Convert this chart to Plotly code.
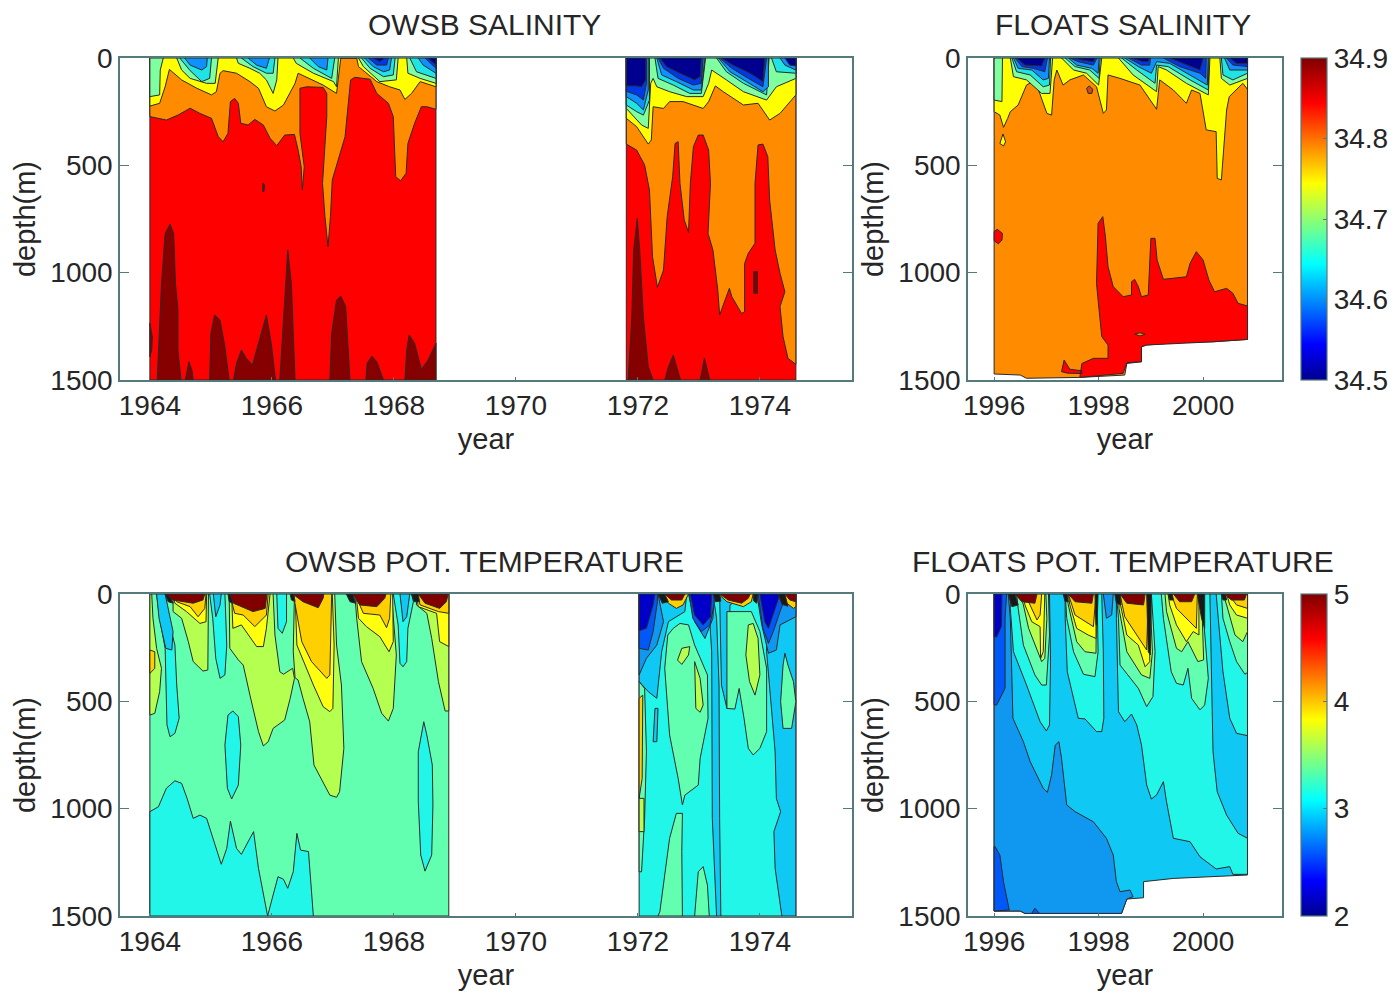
import plotly.graph_objects as go

# ---------- axis labels and ticks ----------
owsb_year_ticks = [1964, 1966, 1968, 1970, 1972, 1974]
float_year_ticks = [1996, 1998, 2000]
depth_ticks = [0, 500, 1000, 1500]
sal_ticks = [34.5, 34.6, 34.7, 34.8, 34.9]
sal_tick_text = ["34.5", "34.6", "34.7", "34.8", "34.9"]
temp_ticks = [2, 3, 4, 5]
titles = ["OWSB SALINITY", "FLOATS SALINITY", "OWSB POT. TEMPERATURE", "FLOATS POT. TEMPERATURE"]

# ---------- band colours ----------
NAVY = "#00008f"; BLUE = "#0038e8"; AZURE = "#1090ff"; CYAN = "#20e4e4"; GREEN = "#80ffa0"
YELLOW = "#ffff00"; ORANGE = "#ff8c00"; RED = "#ff0000"; DARK = "#860000"
T_NAVY = "#0000c8"; T_BLUE = "#0058f8"; T_AZ = "#1098f0"; T_SKY = "#10c8f4"; T_TURQ = "#22f6e8"
T_MINT = "#62ffb0"; T_LIME = "#b4ff50"; T_YEL = "#ffff10"; T_GOLD = "#ffd000"; T_DARK = "#800000"; T_BLACK = "#181818"
JET = [[0, "#00008f"], [0.11, "#0000ff"], [0.36, "#00ffff"], [0.61, "#ffff00"], [0.86, "#ff0000"], [1, "#800000"]]

# ---------- OWSB salinity: band outlines as (year, depth in m) ----------
os_red_a = [(1964.0, 0), (1968.69, 0), (1968.69, 1500), (1964.0, 1500)]
os_red_b = [(1971.81, 0), (1974.59, 0), (1974.59, 1500), (1971.81, 1500)]

os_dark = [
    [(1964.0, 1236), (1964.04, 1299), (1964.03, 1360), (1964.0, 1392)],
    [(1964.12, 1500), (1964.16, 1205), (1964.19, 1050), (1964.25, 817), (1964.33, 774), (1964.39, 817), (1964.42, 1050), (1964.46, 1174), (1964.46, 1360), (1964.51, 1500)],
    [(1964.58, 1500), (1964.64, 1415), (1964.69, 1454), (1964.71, 1500)],
    [(1964.98, 1500), (1965.0, 1283), (1965.06, 1197), (1965.15, 1221), (1965.23, 1345), (1965.30, 1500)],
    [(1965.37, 1500), (1965.42, 1423), (1965.50, 1360), (1965.58, 1399), (1965.68, 1430), (1965.78, 1329), (1965.91, 1197), (1965.99, 1329), (1966.06, 1500)],
    [(1966.13, 1500), (1966.16, 1360), (1966.20, 1127), (1966.26, 894), (1966.32, 1050), (1966.35, 1283), (1966.38, 1500)],
    [(1966.95, 1500), (1966.98, 1283), (1967.06, 1127), (1967.13, 1109), (1967.21, 1158), (1967.25, 1329), (1967.28, 1500)],
    [(1967.54, 1500), (1967.56, 1423), (1967.64, 1388), (1967.72, 1415), (1967.83, 1500)],
    [(1968.18, 1500), (1968.21, 1360), (1968.25, 1290), (1968.34, 1329), (1968.45, 1450), (1968.56, 1407), (1968.69, 1329), (1968.69, 1500)],
    [(1965.85, 584), (1965.88, 591), (1965.87, 622), (1965.85, 622)],
    [(1971.84, 1500), (1971.90, 1205), (1971.93, 894), (1971.99, 747), (1972.03, 894), (1972.09, 1205), (1972.17, 1438), (1972.25, 1500)],
    [(1972.44, 1500), (1972.50, 1438), (1972.58, 1384), (1972.64, 1438), (1972.70, 1500)],
    [(1973.02, 1500), (1973.06, 1438), (1973.09, 1399), (1973.14, 1454), (1973.18, 1500)],
    [(1973.90, 995), (1973.96, 995), (1973.96, 1096), (1973.90, 1096)],
]
os_orange = [
    [(1964.0, 0), (1964.0, 273), (1964.27, 289), (1964.46, 266), (1964.66, 234), (1964.82, 258), (1965.01, 281), (1965.12, 366), (1965.20, 390), (1965.28, 351), (1965.32, 203), (1965.39, 188), (1965.45, 211), (1965.49, 304), (1965.61, 312), (1965.72, 286), (1965.86, 312), (1965.97, 374), (1966.08, 408), (1966.21, 359), (1966.37, 356), (1966.43, 429), (1966.48, 506), (1966.50, 615), (1966.53, 506), (1966.46, 351), (1966.46, 141), (1966.57, 134), (1966.84, 137), (1966.90, 165), (1966.90, 273), (1966.87, 429), (1966.83, 584), (1966.87, 739), (1966.92, 879), (1966.96, 739), (1966.99, 568), (1967.20, 366), (1967.29, 102), (1967.36, 90), (1967.61, 99), (1967.72, 165), (1967.91, 211), (1967.99, 273), (1968.03, 553), (1968.11, 572), (1968.20, 537), (1968.23, 398), (1968.34, 304), (1968.45, 227), (1968.54, 227), (1968.69, 239), (1968.69, 0)],
    [(1971.81, 0), (1971.81, 401), (1971.98, 429), (1972.11, 498), (1972.19, 615), (1972.24, 926), (1972.32, 1068), (1972.42, 988), (1972.48, 739), (1972.57, 553), (1972.61, 398), (1972.66, 390), (1972.69, 584), (1972.76, 755), (1972.83, 812), (1972.86, 584), (1972.91, 413), (1972.99, 359), (1973.07, 359), (1973.16, 429), (1973.19, 584), (1973.15, 817), (1973.23, 894), (1973.31, 1081), (1973.34, 1197), (1973.44, 1120), (1973.50, 1073), (1973.54, 1112), (1973.70, 1190), (1973.75, 1182), (1973.75, 957), (1973.81, 910), (1973.92, 863), (1973.92, 584), (1973.97, 405), (1974.05, 401), (1974.13, 460), (1974.16, 662), (1974.25, 894), (1974.33, 1003), (1974.41, 1089), (1974.33, 1158), (1974.38, 1298), (1974.46, 1399), (1974.59, 1427), (1974.59, 0)],
]
os_yellow = [
    [(1964.0, 0), (1964.0, 224), (1964.16, 211), (1964.25, 134), (1964.32, 53), (1964.52, 102), (1964.77, 141), (1965.01, 172), (1965.09, 157), (1965.15, 71), (1965.20, 59), (1965.42, 71), (1965.64, 110), (1965.78, 141), (1965.91, 227), (1966.05, 247), (1966.19, 219), (1966.38, 118), (1966.43, 71), (1966.62, 95), (1966.84, 126), (1967.06, 165), (1967.10, 71), (1967.13, 0), (1967.39, 0), (1967.42, 40), (1967.72, 110), (1967.93, 134), (1968.10, 149), (1968.18, 193), (1968.29, 165), (1968.43, 110), (1968.69, 134), (1968.69, 0)],
    [(1971.81, 0), (1971.81, 281), (1971.98, 320), (1972.17, 401), (1972.22, 382), (1972.25, 227), (1972.42, 235), (1972.52, 203), (1972.74, 203), (1973.07, 235), (1973.16, 203), (1973.27, 130), (1973.40, 157), (1973.73, 219), (1973.97, 211), (1974.16, 289), (1974.33, 258), (1974.59, 172), (1974.59, 0)],
]
os_green = [
    [(1964.0, 0), (1964.0, 180), (1964.16, 172), (1964.17, 56), (1964.22, 0)],
    [(1964.44, 0), (1964.52, 56), (1964.66, 95), (1964.93, 118), (1965.07, 118), (1965.12, 0)],
    [(1965.42, 0), (1965.45, 25), (1965.64, 48), (1965.80, 71), (1965.91, 102), (1966.02, 165), (1966.08, 102), (1966.10, 0)],
    [(1966.35, 0), (1966.40, 25), (1966.68, 71), (1967.01, 110), (1967.06, 134), (1967.09, 0)],
    [(1967.42, 0), (1967.50, 40), (1967.77, 110), (1968.04, 102), (1968.07, 0)],
    [(1968.21, 0), (1968.23, 71), (1968.43, 95), (1968.69, 118), (1968.69, 0)],
    [(1971.81, 0), (1971.81, 235), (1972.06, 312), (1972.17, 328), (1972.21, 118), (1972.25, 95), (1972.31, 134), (1972.52, 157), (1972.80, 180), (1973.07, 180), (1973.16, 118), (1973.21, 56), (1973.45, 102), (1973.73, 157), (1974.11, 196), (1974.27, 134), (1974.59, 95), (1974.59, 0)],
]
os_cyan = [
    [(1964.49, 0), (1964.66, 59), (1964.85, 110), (1964.98, 95), (1965.01, 0)],
    [(1965.50, 0), (1965.69, 40), (1965.91, 71), (1966.02, 71), (1966.05, 0)],
    [(1966.46, 0), (1966.68, 48), (1966.98, 95), (1967.03, 0)],
    [(1967.47, 0), (1967.61, 48), (1967.83, 87), (1967.99, 79), (1968.02, 0)],
    [(1968.26, 0), (1968.37, 64), (1968.69, 95), (1968.69, 0)],
    [(1971.81, 0), (1971.81, 219), (1971.98, 250), (1972.09, 266), (1972.19, 196), (1972.19, 0)],
    [(1972.28, 0), (1972.33, 95), (1972.58, 126), (1972.85, 165), (1973.04, 165), (1973.11, 0)],
    [(1973.29, 0), (1973.45, 64), (1973.73, 118), (1974.11, 172), (1974.15, 0)],
    [(1974.19, 0), (1974.27, 64), (1974.59, 71), (1974.59, 0)],
]
os_azure = [
    [(1964.57, 0), (1964.66, 33), (1964.85, 56), (1964.93, 40), (1964.94, 0)],
    [(1965.61, 0), (1965.75, 33), (1965.91, 48), (1965.96, 0)],
    [(1966.62, 0), (1966.76, 40), (1966.90, 56), (1966.92, 0)],
    [(1967.52, 0), (1967.66, 40), (1967.83, 64), (1967.93, 56), (1967.96, 0)],
    [(1968.40, 0), (1968.48, 33), (1968.69, 71), (1968.69, 0)],
    [(1971.81, 0), (1971.81, 180), (1971.98, 211), (1972.09, 242), (1972.17, 149), (1972.17, 0)],
    [(1972.31, 0), (1972.39, 79), (1972.63, 110), (1972.91, 149), (1973.04, 149), (1973.10, 0)],
    [(1973.32, 0), (1973.51, 64), (1973.78, 110), (1974.05, 157), (1974.14, 134), (1974.14, 0)],
    [(1974.33, 0), (1974.41, 33), (1974.59, 56), (1974.59, 0)],
]
os_blue = [
    [(1967.58, 0), (1967.72, 33), (1967.88, 33), (1967.91, 0)],
    [(1968.51, 0), (1968.69, 48), (1968.69, 0)],
    [(1971.81, 0), (1971.81, 155), (1971.98, 172), (1972.09, 196), (1972.14, 118), (1972.14, 0)],
    [(1972.33, 0), (1972.42, 48), (1972.66, 95), (1972.91, 126), (1973.04, 118), (1973.07, 0)],
    [(1973.34, 0), (1973.54, 48), (1973.81, 95), (1974.05, 134), (1974.11, 0)],
]
os_navy = [
    [(1967.66, 0), (1967.77, 17), (1967.85, 0)],
    [(1968.56, 0), (1968.69, 33), (1968.69, 0)],
    [(1971.81, 0), (1971.81, 130), (1971.98, 130), (1972.06, 134), (1972.13, 102), (1972.13, 0)],
    [(1972.36, 0), (1972.47, 40), (1972.69, 71), (1972.93, 102), (1973.02, 87), (1973.04, 0)],
    [(1973.37, 0), (1973.56, 33), (1973.84, 71), (1974.05, 110), (1974.08, 0)],
    [(1974.41, 0), (1974.49, 33), (1974.59, 37), (1974.59, 0)],
]

# ---------- floats salinity ----------
fs_orange = [(1996.0, 0), (2000.85, 0), (2000.85, 1311), (2000.19, 1322), (1999.49, 1326), (1998.92, 1337), (1998.82, 1345), (1998.82, 1415), (1998.54, 1423), (1998.50, 1477), (1997.64, 1488), (1996.62, 1492), (1996.50, 1477), (1996.0, 1472)]
fs_red = [
    [(1997.96, 1050), (1997.99, 770), (1998.08, 739), (1998.13, 832), (1998.18, 972), (1998.28, 1065), (1998.47, 1112), (1998.63, 1104), (1998.63, 1042), (1998.69, 1031), (1998.76, 1065), (1998.82, 1112), (1998.95, 1104), (1998.98, 972), (1999.0, 840), (1999.08, 840), (1999.12, 941), (1999.24, 1031), (1999.68, 1019), (1999.75, 957), (1999.87, 902), (2000.0, 941), (2000.11, 1034), (2000.22, 1089), (2000.45, 1073), (2000.57, 1096), (2000.67, 1143), (2000.85, 1155), (2000.85, 1311), (2000.19, 1322), (1999.49, 1329), (1998.92, 1337), (1998.82, 1345), (1998.82, 1415), (1998.54, 1419), (1998.47, 1469), (1997.64, 1488), (1997.68, 1423), (1997.90, 1399), (1998.18, 1399), (1998.18, 1337), (1998.06, 1298), (1997.99, 1127)],
    [(1997.29, 1461), (1997.34, 1407), (1997.45, 1450), (1997.68, 1457), (1997.68, 1470), (1997.40, 1468)],
    [(1996.0, 809), (1996.06, 798), (1996.16, 817), (1996.15, 848), (1996.08, 866), (1996.0, 851)],
]
fs_orange_spots = [(1998.69, 1286), (1998.79, 1280), (1998.89, 1287), (1998.79, 1295)]
fs_brick_spot = [(1997.77, 141), (1997.82, 130), (1997.89, 146), (1997.87, 165), (1997.80, 165)]
fs_yellow = [
    [(1996.0, 0), (1996.0, 250), (1996.11, 266), (1996.18, 323), (1996.26, 281), (1996.31, 250), (1996.46, 219), (1996.62, 126), (1996.72, 113), (1996.85, 149), (1997.01, 258), (1997.10, 266), (1997.15, 102), (1997.20, 56), (1997.32, 126), (1997.45, 102), (1997.71, 79), (1997.96, 134), (1998.09, 258), (1998.15, 242), (1998.18, 79), (1998.41, 95), (1998.79, 126), (1999.11, 239), (1999.17, 102), (1999.43, 149), (1999.68, 211), (1999.78, 149), (1999.94, 165), (2000.06, 335), (2000.25, 343), (2000.27, 561), (2000.35, 568), (2000.45, 242), (2000.50, 180), (2000.76, 118), (2000.85, 146), (2000.85, 0)],
    [(1996.11, 398), (1996.17, 354), (1996.22, 390), (1996.18, 410)],
]
fs_green = [
    [(1996.0, 0), (1996.0, 196), (1996.15, 203), (1996.16, 0)],
    [(1996.31, 0), (1996.37, 87), (1996.62, 102), (1996.91, 165), (1997.07, 165), (1997.12, 0)],
    [(1997.29, 0), (1997.52, 56), (1997.77, 71), (1998.0, 126), (1998.06, 0)],
    [(1998.38, 0), (1998.66, 79), (1999.11, 157), (1999.14, 40), (1999.30, 56), (1999.68, 118), (2000.10, 172), (2000.13, 0)],
    [(2000.32, 0), (2000.35, 95), (2000.51, 126), (2000.85, 95), (2000.85, 0)],
]
fs_cyan = [
    [(1996.34, 0), (1996.43, 64), (1996.69, 79), (1996.94, 134), (1997.06, 126), (1997.08, 0)],
    [(1997.36, 0), (1997.55, 40), (1997.83, 56), (1998.01, 95), (1998.03, 0)],
    [(1998.44, 0), (1998.73, 56), (1999.08, 118), (1999.11, 33), (1999.33, 40), (1999.75, 102), (2000.10, 149), (2000.11, 0)],
    [(2000.35, 0), (2000.38, 79), (2000.57, 102), (2000.85, 71), (2000.85, 0)],
]
fs_azure = [
    [(1996.37, 0), (1996.46, 48), (1996.72, 56), (1996.94, 102), (1997.04, 95), (1997.06, 0)],
    [(1997.42, 0), (1997.58, 33), (1997.87, 48), (1997.99, 71), (1998.01, 0)],
    [(1998.50, 0), (1998.76, 40), (1999.01, 71), (1999.11, 17), (1999.36, 25), (1999.81, 87), (2000.08, 126), (2000.10, 0)],
    [(2000.41, 0), (2000.51, 56), (2000.85, 56), (2000.85, 0)],
]
fs_blue = [
    [(1996.40, 0), (1996.53, 40), (1996.75, 48), (1996.97, 64), (1997.02, 0)],
    [(1997.45, 0), (1997.61, 17), (1997.90, 33), (1997.97, 0)],
    [(1998.57, 0), (1998.82, 33), (1998.98, 33), (1998.99, 0)],
    [(1999.24, 0), (1999.55, 40), (1999.94, 71), (2000.05, 95), (2000.06, 0)],
    [(2000.45, 0), (2000.57, 33), (2000.85, 40), (2000.85, 0)],
]
fs_navy = [
    [(1996.43, 0), (1996.59, 33), (1996.91, 37), (1996.97, 0)],
    [(1997.52, 0), (1997.68, 9), (1997.90, 17), (1997.93, 0)],
    [(1998.63, 0), (1998.85, 17), (1998.95, 17), (1998.97, 0)],
    [(1999.36, 0), (1999.62, 25), (1999.94, 56), (2000.0, 0)],
    [(2000.51, 0), (2000.64, 25), (2000.85, 25), (2000.85, 0)],
]

# ---------- OWSB temperature ----------
ot_mint = [
    [(1964.0, 0), (1968.90, 0), (1968.90, 1500), (1964.0, 1500)],
]
ot_cyan = [
    [(1972.02, 0), (1974.59, 0), (1974.59, 1500), (1972.02, 1500)],
    [(1964.0, 1014), (1964.14, 991), (1964.27, 905), (1964.41, 870), (1964.52, 882), (1964.61, 952), (1964.71, 1045), (1964.82, 1030), (1964.93, 1045), (1965.07, 1169), (1965.17, 1259), (1965.26, 1185), (1965.32, 1058), (1965.42, 1185), (1965.50, 1213), (1965.64, 1138), (1965.70, 1107), (1965.78, 1278), (1965.89, 1449), (1965.93, 1500), (1966.02, 1402), (1966.10, 1317), (1966.19, 1329), (1966.26, 1371), (1966.35, 1294), (1966.41, 1115), (1966.47, 1193), (1966.60, 1200), (1966.68, 1500), (1964.0, 1500)],
    [(1965.23, 704), (1965.28, 564), (1965.36, 545), (1965.45, 571), (1965.49, 704), (1965.45, 890), (1965.34, 955), (1965.27, 905)],
    [(1968.49, 595), (1968.40, 735), (1968.40, 968), (1968.44, 1216), (1968.51, 1291), (1968.62, 1216), (1968.64, 983), (1968.63, 797), (1968.54, 657)],
    [(1964.11, 0), (1964.16, 113), (1964.25, 253), (1964.27, 424), (1964.28, 610), (1964.33, 665), (1964.41, 649), (1964.48, 579), (1964.44, 424), (1964.41, 238), (1964.30, 113), (1964.25, 0)],
    [(1964.98, 0), (1965.03, 113), (1965.08, 300), (1965.15, 393), (1965.23, 377), (1965.26, 238), (1965.23, 0)],
    [(1966.08, 0), (1966.10, 160), (1966.17, 183), (1966.24, 129), (1966.24, 0)],
    [(1967.99, 0), (1968.07, 144), (1968.10, 323), (1968.15, 339), (1968.21, 315), (1968.23, 160), (1968.32, 36), (1968.29, 0)],
]
ot_sky = [
    [(1964.11, 0), (1964.15, 113), (1964.26, 253), (1964.36, 261), (1964.38, 175), (1964.25, 0)],
    [(1965.04, 0), (1965.08, 106), (1965.15, 51), (1965.17, 0)],
    [(1968.10, 0), (1968.15, 129), (1968.21, 106), (1968.26, 0)],
    [(1973.15, 0), (1973.21, 269), (1973.22, 1045), (1973.29, 1500), (1973.36, 1500), (1973.34, 1045), (1973.33, 424), (1973.29, 113), (1973.23, 0)],
    [(1974.11, 269), (1974.16, 424), (1974.25, 735), (1974.27, 952), (1974.34, 1014), (1974.23, 1107), (1974.25, 1278), (1974.36, 1500), (1974.59, 1500), (1974.59, 0), (1974.11, 0)],
    [(1972.02, 0), (1972.02, 408), (1972.17, 455), (1972.31, 486), (1972.39, 269), (1972.50, 129), (1972.77, 82), (1972.80, 0)],
    [(1973.34, 0), (1973.37, 424), (1973.46, 533), (1973.51, 51), (1973.78, 0)],
    [(1972.28, 533), (1972.33, 533), (1972.31, 688), (1972.25, 688)],
]
ot_azure = [
    [(1972.02, 0), (1972.02, 377), (1972.14, 300), (1972.31, 238), (1972.42, 129), (1972.33, 0)],
    [(1972.83, 0), (1972.93, 129), (1973.10, 207), (1973.23, 113), (1973.25, 0)],
    [(1973.95, 0), (1974.03, 144), (1974.14, 276), (1974.27, 261), (1974.33, 144), (1974.59, 106), (1974.59, 0)],
]
ot_blue = [
    [(1972.02, 0), (1972.02, 253), (1972.17, 261), (1972.25, 175), (1972.32, 36), (1972.32, 0)],
    [(1972.84, 0), (1972.90, 113), (1973.04, 175), (1973.18, 144), (1973.25, 51), (1973.25, 0)],
    [(1973.97, 0), (1974.05, 160), (1974.14, 230), (1974.22, 175), (1974.33, 82), (1974.44, 0)],
]
ot_navy = [
    [(1972.02, 0), (1972.02, 171), (1972.14, 160), (1972.25, 51), (1972.28, 0)],
    [(1972.86, 0), (1972.93, 98), (1973.07, 144), (1973.19, 106), (1973.21, 0)],
    [(1974.0, 0), (1974.08, 129), (1974.14, 160), (1974.27, 51), (1974.33, 0)],
]
ot_mint_b = [
    [(1972.49, 191), (1972.44, 346), (1972.52, 657), (1972.66, 859), (1972.73, 983), (1972.77, 937), (1972.99, 890), (1973.02, 766), (1973.15, 579), (1973.14, 377), (1972.93, 238), (1972.83, 144), (1972.69, 137), (1972.58, 160)],
    [(1972.36, 1480), (1972.52, 1138), (1972.63, 1022), (1972.73, 1022), (1972.72, 1200), (1972.73, 1500), (1972.33, 1500)],
    [(1972.93, 1500), (1972.99, 1294), (1973.07, 1270), (1973.14, 1356), (1973.17, 1500)],
    [(1973.46, 82), (1973.46, 533), (1973.59, 536), (1973.66, 440), (1973.74, 579), (1973.81, 719), (1973.89, 750), (1974.0, 719), (1974.11, 641), (1974.11, 346), (1974.0, 175), (1973.86, 82)],
    [(1974.38, 626), (1974.34, 502), (1974.38, 331), (1974.41, 276), (1974.46, 331), (1974.55, 408), (1974.59, 502), (1974.52, 626)],
    [(1972.02, 408), (1972.11, 440), (1972.14, 735), (1972.11, 1045), (1972.06, 1294), (1972.02, 1294)],
]
ot_lime = [
    [(1964.0, 564), (1964.08, 556), (1964.16, 455), (1964.19, 346), (1964.11, 253), (1964.05, 113), (1964.03, 0), (1964.0, 0)],
    [(1964.38, 82), (1964.52, 113), (1964.63, 222), (1964.71, 315), (1964.87, 359), (1964.95, 354), (1964.96, 0), (1964.38, 0)],
    [(1965.30, 5), (1965.31, 253), (1965.45, 307), (1965.53, 331), (1965.64, 471), (1965.78, 641), (1965.86, 708), (1965.94, 688), (1966.02, 626), (1966.21, 587), (1966.30, 486), (1966.37, 393), (1966.34, 346), (1966.19, 374), (1966.13, 362), (1966.05, 191), (1966.02, 0), (1965.30, 0)],
    [(1966.37, 0), (1966.35, 269), (1966.38, 390), (1966.43, 401), (1966.51, 486), (1966.62, 595), (1966.69, 797), (1966.81, 859), (1966.95, 937), (1967.06, 947), (1967.11, 921), (1967.18, 719), (1967.14, 424), (1967.06, 238), (1967.03, 0)],
    [(1967.39, 113), (1967.47, 315), (1967.66, 440), (1967.80, 556), (1967.91, 592), (1967.99, 533), (1968.04, 284), (1967.99, 113), (1967.96, 0), (1967.36, 0)],
    [(1968.37, 51), (1968.54, 90), (1968.62, 207), (1968.73, 408), (1968.84, 545), (1968.90, 545), (1968.90, 0), (1968.37, 0)],
    [(1972.65, 308), (1972.72, 253), (1972.85, 245), (1972.83, 284), (1972.72, 328)],
    [(1972.93, 315), (1973.02, 393), (1973.07, 517), (1973.02, 551), (1972.95, 533)],
    [(1973.81, 144), (1973.77, 284), (1973.83, 408), (1973.92, 471), (1974.0, 377), (1973.97, 207), (1973.89, 137)],
    [(1972.02, 952), (1972.10, 952), (1972.10, 1107), (1972.02, 1107)],
]
ot_yellow = [
    [(1964.38, 0), (1964.41, 43), (1964.60, 82), (1964.82, 137), (1964.92, 129), (1964.93, 0)],
    [(1965.34, 0), (1965.36, 160), (1965.50, 144), (1965.75, 245), (1965.86, 245), (1965.91, 160), (1965.97, 0)],
    [(1966.38, 0), (1966.41, 238), (1966.68, 424), (1966.84, 525), (1966.95, 548), (1967.0, 533), (1967.02, 238), (1966.99, 0)],
    [(1967.38, 0), (1967.42, 113), (1967.55, 152), (1967.77, 199), (1967.92, 269), (1967.99, 222), (1967.98, 0)],
    [(1968.37, 0), (1968.40, 59), (1968.70, 90), (1968.75, 222), (1968.90, 245), (1968.90, 0)],
]
ot_gold = [
    [(1964.0, 261), (1964.08, 269), (1964.08, 346), (1964.0, 370)],
    [(1964.38, 0), (1964.44, 36), (1964.66, 59), (1964.79, 106), (1964.90, 67), (1964.92, 0)],
    [(1965.31, 0), (1965.39, 90), (1965.53, 98), (1965.72, 152), (1965.91, 98), (1965.94, 0)],
    [(1966.35, 0), (1966.49, 222), (1966.65, 315), (1966.90, 393), (1966.95, 377), (1966.98, 0)],
    [(1967.36, 0), (1967.50, 90), (1967.77, 98), (1967.88, 157), (1967.93, 113), (1967.95, 0)],
    [(1968.38, 0), (1968.43, 51), (1968.73, 82), (1968.90, 90), (1968.90, 0)],
    [(1972.39, 0), (1972.50, 43), (1972.63, 67), (1972.74, 51), (1972.83, 0)],
    [(1973.32, 0), (1973.46, 36), (1973.73, 59), (1973.86, 36), (1973.89, 0)],
    [(1974.36, 0), (1974.41, 36), (1974.55, 67), (1974.59, 59), (1974.59, 0)],
    [(1972.02, 486), (1972.08, 471), (1972.07, 859), (1972.02, 952)],
]
ot_dark = [
    [(1964.27, 0), (1964.38, 28), (1964.71, 43), (1964.87, 28), (1964.90, 0)],
    [(1965.31, 0), (1965.37, 43), (1965.69, 82), (1965.89, 67), (1965.92, 0)],
    [(1966.34, 0), (1966.51, 36), (1966.76, 64), (1966.84, 20), (1966.85, 0)],
    [(1967.33, 0), (1967.44, 51), (1967.72, 59), (1967.85, 20), (1967.87, 0)],
    [(1968.40, 0), (1968.51, 43), (1968.75, 67), (1968.86, 36), (1968.89, 0)],
    [(1972.44, 0), (1972.55, 28), (1972.72, 28), (1972.77, 0)],
    [(1973.34, 0), (1973.48, 28), (1973.70, 43), (1973.81, 20), (1973.84, 0)],
    [(1974.41, 0), (1974.49, 28), (1974.59, 36), (1974.59, 0)],
]
ot_black = [
    [(1964.25, 0), (1964.32, 0), (1964.38, 43), (1964.30, 36)],
    [(1965.28, 0), (1965.34, 0), (1965.36, 43), (1965.30, 36)],
    [(1966.30, 0), (1966.36, 0), (1966.38, 36), (1966.32, 28)],
    [(1967.22, 0), (1967.33, 0), (1967.37, 43), (1967.28, 36)],
    [(1968.29, 0), (1968.40, 0), (1968.42, 36), (1968.33, 36)],
    [(1972.33, 0), (1972.44, 0), (1972.50, 36), (1972.40, 43)],
    [(1973.23, 0), (1973.34, 0), (1973.36, 33), (1973.27, 36)],
    [(1973.89, 0), (1973.97, 0), (1973.95, 43), (1973.90, 33)],
    [(1974.30, 0), (1974.41, 0), (1974.46, 57), (1974.36, 48)],
]

# ---------- floats temperature ----------
ft_sky = [(1996.0, 0), (2000.85, 0), (2000.85, 1309), (2000.19, 1317), (1999.43, 1325), (1998.86, 1340), (1998.86, 1415), (1998.54, 1421), (1998.44, 1488), (1996.59, 1488), (1996.50, 1477), (1996.0, 1477)]
ft_azure = [(1996.0, 0), (1996.27, 0), (1996.31, 113), (1996.36, 579), (1996.56, 688), (1996.69, 781), (1996.94, 905), (1997.02, 924), (1997.10, 843), (1997.17, 704), (1997.24, 688), (1997.29, 766), (1997.39, 983), (1997.55, 1014), (1997.90, 1061), (1998.15, 1138), (1998.28, 1216), (1998.34, 1340), (1998.41, 1387), (1998.60, 1379), (1998.66, 1410), (1998.54, 1421), (1998.44, 1488), (1996.59, 1488), (1996.50, 1477), (1996.0, 1477)]
ft_blue = [
    [(1996.02, 1177), (1996.11, 1216), (1996.18, 1340), (1996.29, 1472), (1996.0, 1477), (1996.0, 1177)],
    [(1996.0, 0), (1996.24, 0), (1996.21, 113), (1996.21, 439), (1996.05, 517), (1996.0, 517)],
    [(1996.72, 1488), (1996.78, 1464), (1996.87, 1488)],
    [(1999.94, 0), (2000.0, 82), (2000.13, 98), (2000.10, 0)],
]
ft_navy = [(1996.0, 0), (1996.15, 0), (1996.14, 150), (1996.05, 200), (1996.0, 200)]
ft_small_azure = [
    [(1998.09, 0), (1998.15, 113), (1998.25, 98), (1998.28, 0)],
    [(1999.04, 0), (1999.11, 67), (1999.24, 51), (1999.25, 0)],
]
ft_turq = [
    [(1996.31, 67), (1996.37, 269), (1996.62, 424), (1996.88, 595), (1997.0, 638), (1997.06, 610), (1997.08, 315), (1997.06, 0), (1996.31, 0)],
    [(1997.36, 113), (1997.40, 362), (1997.61, 579), (1997.74, 582), (1997.96, 641), (1998.06, 641), (1998.10, 579), (1998.09, 269), (1998.06, 0), (1997.36, 0)],
    [(1998.34, 113), (1998.38, 548), (1998.50, 595), (1998.63, 559), (1998.73, 610), (1998.82, 703), (1998.92, 890), (1999.01, 955), (1999.11, 936), (1999.24, 874), (1999.30, 968), (1999.43, 1138), (1999.75, 1154), (1999.94, 1224), (2000.25, 1281), (2000.51, 1270), (2000.57, 1306), (2000.85, 1306), (2000.85, 1138), (2000.67, 1115), (2000.45, 1030), (2000.27, 921), (2000.19, 735), (2000.16, 424), (2000.13, 0), (1998.34, 0)],
    [(2000.29, 113), (2000.38, 362), (2000.51, 579), (2000.64, 649), (2000.85, 660), (2000.85, 0), (2000.25, 0)],
]
ft_mint = [
    [(1996.46, 67), (1996.56, 238), (1996.78, 377), (1996.91, 424), (1997.0, 424), (1997.06, 191), (1997.04, 0), (1996.43, 0)],
    [(1997.39, 113), (1997.52, 269), (1997.71, 374), (1997.93, 385), (1997.99, 269), (1997.97, 0), (1997.36, 0)],
    [(1998.38, 113), (1998.41, 331), (1998.76, 439), (1998.92, 525), (1999.04, 478), (1999.08, 269), (1999.01, 0), (1998.34, 0)],
    [(1999.24, 113), (1999.39, 362), (1999.49, 416), (1999.62, 424), (1999.71, 346), (1999.78, 486), (1999.94, 540), (2000.03, 517), (2000.10, 393), (2000.03, 160), (1999.97, 0), (1999.20, 0)],
    [(2000.38, 113), (2000.51, 222), (2000.64, 315), (2000.80, 374), (2000.85, 365), (2000.85, 0), (2000.35, 0)],
]
ft_lime = [
    [(1996.56, 51), (1996.66, 160), (1996.91, 315), (1996.97, 300), (1997.01, 113), (1996.99, 0), (1996.50, 0)],
    [(1997.42, 51), (1997.58, 222), (1997.74, 269), (1997.95, 276), (1997.96, 0), (1997.39, 0)],
    [(1998.39, 67), (1998.54, 269), (1998.82, 377), (1998.98, 393), (1999.03, 269), (1998.98, 0), (1998.39, 0)],
    [(1999.30, 82), (1999.49, 253), (1999.59, 269), (1999.71, 222), (1999.90, 315), (2000.01, 307), (1999.97, 0), (1999.27, 0)],
    [(2000.45, 51), (2000.61, 191), (2000.76, 222), (2000.85, 175), (2000.85, 0), (2000.38, 0)],
]
ft_yellow = [
    [(1996.59, 51), (1996.72, 129), (1996.88, 152), (1996.89, 300), (1996.94, 269), (1996.97, 0), (1996.56, 0)],
    [(1997.45, 51), (1997.58, 160), (1997.80, 191), (1997.95, 207), (1997.95, 0), (1997.42, 0)],
    [(1998.42, 51), (1998.54, 191), (1998.76, 238), (1998.89, 339), (1998.98, 315), (1998.95, 0), (1998.39, 0)],
    [(1999.36, 51), (1999.49, 144), (1999.68, 222), (1999.81, 175), (1999.92, 191), (1999.92, 0), (1999.33, 0)],
    [(2000.51, 51), (2000.64, 98), (2000.85, 113), (2000.85, 0), (2000.45, 0)],
]
ft_gold = [
    [(1996.59, 0), (1996.69, 51), (1996.82, 121), (1996.88, 98), (1996.91, 0)],
    [(1997.42, 0), (1997.55, 98), (1997.90, 152), (1997.95, 0)],
    [(1998.41, 0), (1998.50, 106), (1998.92, 261), (1998.95, 0)],
    [(1999.39, 0), (1999.49, 67), (1999.87, 160), (1999.89, 0)],
    [(2000.48, 0), (2000.64, 51), (2000.85, 67), (2000.85, 0)],
]
ft_dark = [
    [(1996.40, 0), (1996.53, 36), (1996.78, 43), (1996.82, 0)],
    [(1997.42, 0), (1997.55, 36), (1997.87, 43), (1997.90, 0)],
    [(1998.41, 0), (1998.54, 43), (1998.86, 51), (1998.89, 0)],
    [(1999.43, 0), (1999.55, 36), (1999.78, 36), (1999.84, 0)],
    [(2000.41, 0), (2000.54, 28), (2000.79, 28), (2000.83, 0)],
]
ft_black = [
    [(1996.27, 0), (1996.40, 0), (1996.46, 51), (1996.34, 59)],
    [(1997.32, 0), (1997.40, 0), (1997.42, 36), (1997.36, 36)],
    [(1997.93, 0), (1997.99, 0), (1997.97, 144), (1997.95, 144)],
    [(1998.31, 0), (1998.41, 0), (1998.43, 51), (1998.34, 43)],
    [(1998.92, 0), (1999.01, 0), (1998.99, 284), (1998.95, 269)],
    [(1999.33, 0), (1999.41, 0), (1999.43, 28), (1999.36, 28)],
    [(1999.89, 0), (2000.03, 0), (2000.03, 160), (1999.97, 113)],
    [(2000.35, 0), (2000.43, 0), (2000.45, 28), (2000.38, 28)],
]

# ---------- layout geometry ----------
W, H = 1393, 992
TOPS = [(58, 380), (594, 916)]
LEFT = (120, 852)
RIGHT = (968, 1282)
LINE = "#557a7c"
TEXT = "#262626"
FS = 28

panels = [
    ("x", "y", [
        (RED, [os_red_a, os_red_b]), (DARK, os_dark), (ORANGE, os_orange), (YELLOW, os_yellow),
        (GREEN, os_green), (CYAN, os_cyan), (AZURE, os_azure), (BLUE, os_blue), (NAVY, os_navy)]),
    ("x2", "y2", [
        (ORANGE, [fs_orange]), (RED, fs_red), (ORANGE, [fs_orange_spots]), ("#c84a1a", [fs_brick_spot]),
        (YELLOW, fs_yellow), (GREEN, fs_green), (CYAN, fs_cyan), (AZURE, fs_azure), (BLUE, fs_blue), (NAVY, fs_navy)]),
    ("x3", "y3", [
        (T_MINT, ot_mint), (T_TURQ, ot_cyan), (T_SKY, ot_sky), (T_AZ, ot_azure), (T_BLUE, ot_blue), (T_NAVY, ot_navy),
        (T_MINT, ot_mint_b), (T_LIME, ot_lime), (T_YEL, ot_yellow), (T_GOLD, ot_gold), (T_BLACK, ot_black), (T_DARK, ot_dark)]),
    ("x4", "y4", [
        (T_SKY, [ft_sky]), (T_AZ, [ft_azure]), (T_BLUE, ft_blue), (T_NAVY, [ft_navy]), (T_AZ, ft_small_azure),
        (T_TURQ, ft_turq), (T_MINT, ft_mint), (T_LIME, ft_lime), (T_YEL, ft_yellow), (T_GOLD, ft_gold), (T_BLACK, ft_black), (T_DARK, ft_dark)]),
]

fig = go.Figure()
for xa, ya, layers in panels:
    for color, polys in layers:
        xs, ys = [], []
        for poly in polys:
            xs += [p[0] for p in poly] + [poly[0][0], None]
            ys += [p[1] for p in poly] + [poly[0][1], None]
        fig.add_trace(go.Scatter(
            x=xs, y=ys, xaxis=xa, yaxis=ya, mode="lines", fill="toself", fillcolor=color,
            line=dict(color="#2a2a2a", width=1), hoverinfo="skip", showlegend=False))


def fx(a, b):
    return [a / W, b / W]


def fy(top, bottom):
    return [1 - bottom / H, 1 - top / H]


def colorbar_trace(xa, ya, x0, y0, cmin, cmax, top, tickvals, ticktext):
    return go.Scatter(
        x=[x0, x0], y=[y0, y0], xaxis=xa, yaxis=ya, mode="markers", showlegend=False, hoverinfo="skip",
        marker=dict(
            size=1, opacity=0, color=[cmin, cmax], cmin=cmin, cmax=cmax, colorscale=JET,
            colorbar=dict(
                x=1301 / W, xanchor="left", y=1 - top / H, yanchor="top",
                thickness=26, thicknessmode="pixels", len=322, lenmode="pixels", xpad=0, ypad=0,
                outlinecolor=LINE, outlinewidth=1.2, tickvals=tickvals, ticktext=ticktext,
                ticks="inside", ticklen=4, tickcolor=LINE, tickfont=dict(family="Liberation Sans", size=FS, color=TEXT),
            ),
        ),
    )


fig.add_trace(colorbar_trace("x2", "y2", 1996, 0, 34.5, 34.9, 58, sal_ticks, sal_tick_text))
fig.add_trace(colorbar_trace("x4", "y4", 1996, 0, 2, 5, 594, temp_ticks, [str(t) for t in temp_ticks]))

font = dict(family="Liberation Sans", size=FS, color=TEXT)
title_font = dict(family="Liberation Sans", size=30, color=TEXT)
label_font = dict(family="Liberation Sans", size=29, color=TEXT)
layout = dict(
    width=W, height=H, paper_bgcolor="white", plot_bgcolor="white",
    margin=dict(l=0, r=0, t=0, b=0, autoexpand=False), showlegend=False,
)
cells = [("", LEFT, TOPS[0], (1963.51, 1975.51), owsb_year_ticks),
         ("2", RIGHT, TOPS[0], (1995.5, 2001.51), float_year_ticks),
         ("3", LEFT, TOPS[1], (1963.51, 1975.51), owsb_year_ticks),
         ("4", RIGHT, TOPS[1], (1995.5, 2001.51), float_year_ticks)]
annotations = []
for i, (s, xd, yd, xr, xt) in enumerate(cells):
    common = dict(showgrid=False, zeroline=False, showline=True, linecolor=LINE, linewidth=1.5,
                  ticks="inside", tickcolor=LINE, tickfont=font, title_font=label_font)
    layout["xaxis" + s] = dict(common, domain=fx(*xd), range=list(xr), tickmode="array", tickvals=xt, mirror=True,
                               ticklen=3, anchor="y" + s, title=dict(text="year", standoff=8))
    layout["yaxis" + s] = dict(common, domain=fy(*yd), range=[1500, 0], tickmode="array", tickvals=depth_ticks,
                               mirror="ticks", ticklen=9, anchor="x" + s, title=dict(text="depth(m)", standoff=6))
    annotations.append(dict(text=titles[i], xref="paper", yref="paper", x=(sum(xd) / 2 - 2) / W,
                            y=1 - (yd[0] - 33) / H, showarrow=False, font=title_font, xanchor="center", yanchor="middle"))
layout["annotations"] = annotations
fig.update_layout(**layout)
fig.write_html("out.html", config={"displayModeBar": False}, post_script="document.body.style.margin='0';")
